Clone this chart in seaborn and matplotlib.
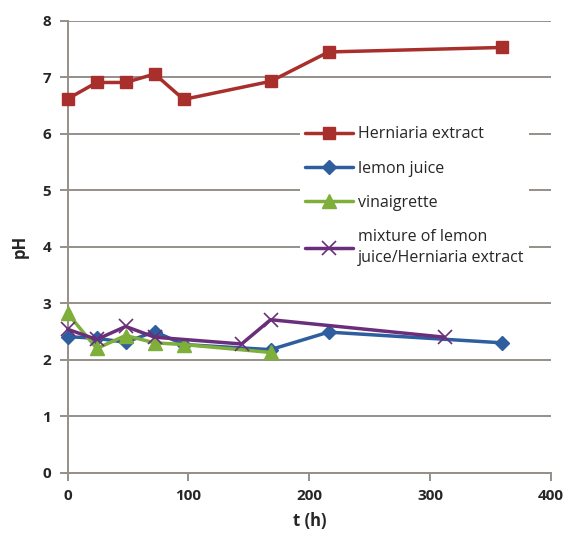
import matplotlib
matplotlib.use('Agg')
import matplotlib.pyplot as plt
import seaborn as sns
import pandas as pd

# pH over time
herniaria_t = [0, 24, 48, 72, 96, 168, 216, 360]
herniaria_ph = [6.62, 6.91, 6.91, 7.06, 6.61, 6.93, 7.45, 7.53]

lemon_t = [0, 24, 48, 72, 96, 168, 216, 360]
lemon_ph = [2.41, 2.38, 2.31, 2.5, 2.27, 2.18, 2.49, 2.3]

vinaigrette_t = [0, 24, 48, 72, 96, 168]
vinaigrette_ph = [2.82, 2.2, 2.43, 2.3, 2.27, 2.13]

mixture_t = [0, 24, 48, 72, 144, 168, 312]
mixture_ph = [2.54, 2.36, 2.59, 2.4, 2.28, 2.71, 2.4]

labels = ['Herniaria extract', 'lemon juice', 'vinaigrette',
          'mixture of lemon\njuice/Herniaria extract']

sns.set_style('white')
plt.rcParams['font.family'] = ['Open Sans', 'DejaVu Sans']

fig = plt.figure(figsize=(5.69, 5.36), dpi=100)
ax = fig.add_axes([0.119, 0.118, 0.849, 0.843])

series = [
    (herniaria_t, herniaria_ph, '#A82F2C', 's', 9),
    (lemon_t, lemon_ph, '#2E5E9E', 'D', 7),
    (vinaigrette_t, vinaigrette_ph, '#7DAF3A', '^', 10),
    (mixture_t, mixture_ph, '#6A2E7A', 'x', 10),
]
for (t, ph, col, mk, ms), lab in zip(series, labels):
    df = pd.DataFrame({'t': t, 'pH': ph})
    mew = 1.2 if mk == 'x' else 1.0
    sns.lineplot(data=df, x='t', y='pH', ax=ax, color=col, linewidth=2.5,
                 marker=mk, markersize=ms, markeredgecolor=col,
                 markeredgewidth=mew, label=lab, clip_on=False, zorder=3)

ax.set_xlim(0, 400)
ax.set_ylim(0, 8)
ax.set_xticks(range(0, 401, 100))
ax.set_yticks(range(0, 9))
ax.grid(axis='y', color='#958F88', linewidth=1.4)
ax.set_axisbelow(True)
for s in ['top', 'right']:
    ax.spines[s].set_visible(False)
for s in ['left', 'bottom']:
    ax.spines[s].set_color('#958F88')
    ax.spines[s].set_linewidth(1.4)
ax.tick_params(axis='both', length=6, width=1.4, color='#958F88',
               labelsize=11, pad=6)
ax.tick_params(axis='y', left=True)
ax.tick_params(axis='x', bottom=True)
for lb in ax.get_xticklabels() + ax.get_yticklabels():
    lb.set_fontweight('bold')

ax.set_xlabel('t (h)', fontsize=12, fontweight='bold', labelpad=6)
ax.set_ylabel('pH', fontsize=12, fontweight='bold', labelpad=10)

leg = ax.legend(loc='upper left', bbox_to_anchor=(0.465, 0.795), frameon=True,
                facecolor='white', edgecolor='none', framealpha=1,
                fontsize=11.5, handlelength=3.0, labelspacing=1.15,
                borderpad=0.3, handletextpad=0.3)
leg.set_zorder(5)
for txt in leg.get_texts():
    txt.set_linespacing(1.35)

fig.savefig('out.png', dpi=100)
